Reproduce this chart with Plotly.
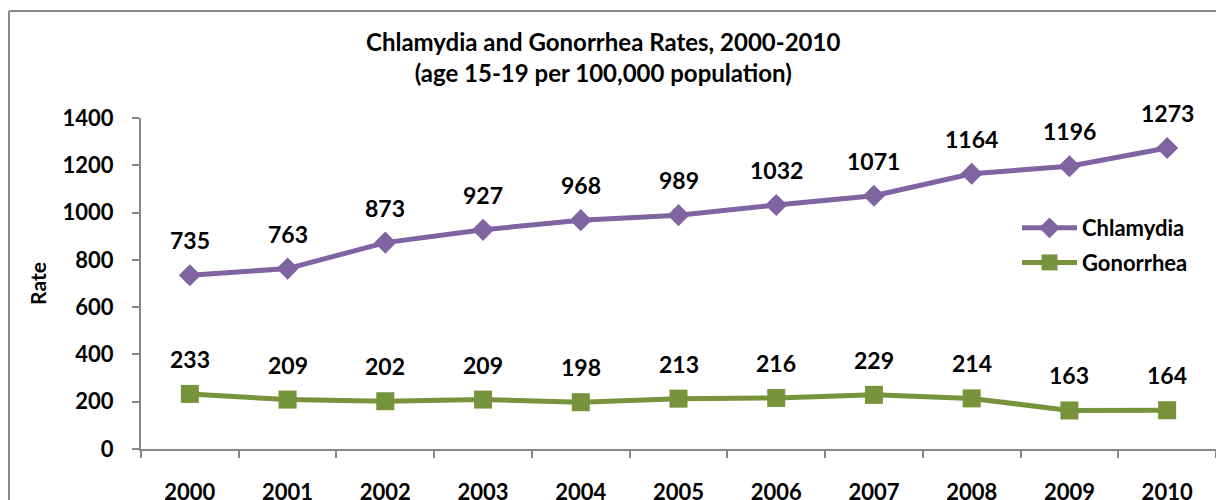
import plotly.graph_objects as go

years = ["2000", "2001", "2002", "2003", "2004", "2005", "2006", "2007", "2008", "2009", "2010"]
chlamydia = [735, 763, 873, 927, 968, 989, 1032, 1071, 1164, 1196, 1273]
gonorrhea = [233, 209, 202, 209, 198, 213, 216, 229, 214, 163, 164]

FONT = "Lato"
PURPLE = "#8064A2"
GREEN = "#77933C"
GRAY = "#888888"

# The page body has an 8px margin, so the figure is drawn 8px in from the window edge.
OFF = 8

fig = go.Figure()
fig.add_trace(go.Scatter(
    x=years, y=chlamydia, name="Chlamydia", mode="lines+markers",
    line=dict(color=PURPLE, width=5),
    marker=dict(symbol="diamond", size=17, color=PURPLE),
    legendgroup="a",
))
fig.add_trace(go.Scatter(
    x=years, y=gonorrhea, name="Gonorrhea", mode="lines+markers",
    line=dict(color=GREEN, width=5),
    marker=dict(symbol="square", size=18, color=GREEN),
    legendgroup="b",
))

annotations = []
for series in (chlamydia, gonorrhea):
    for i, v in enumerate(series):
        annotations.append(dict(
            x=i, y=v, xref="x", yref="y", text=str(v), showarrow=False, yshift=35,
            font=dict(family=FONT, size=23, color="black", weight="bold"),
        ))

# page-pixel to paper conversions (plot area spans x 141..1216, y 118..449 in page pixels)
def px_x(p):
    return (p - 141) / 1075

def px_y(p):
    return (449 - p) / 331

annotations.append(dict(
    xref="paper", yref="paper", x=px_x(603), y=px_y(57),
    text="Chlamydia and Gonorrhea Rates, 2000-2010<br>(age 15-19 per 100,000 population)",
    showarrow=False, xanchor="center", yanchor="middle",
    font=dict(family=FONT, size=24, color="black", weight="bold"),
))

shapes = [
    dict(type="line", xref="paper", yref="paper", x0=px_x(9), x1=px_x(9), y0=px_y(11), y1=px_y(520),
         line=dict(color=GRAY, width=2)),
    dict(type="line", xref="paper", yref="paper", x0=px_x(9), x1=px_x(1240), y0=px_y(11), y1=px_y(11),
         line=dict(color=GRAY, width=2)),
]

fig.update_layout(
    width=1224 - OFF, height=500 - OFF,
    margin=dict(l=141 - OFF, r=8, t=118 - OFF, b=51, autoexpand=False),
    paper_bgcolor="white", plot_bgcolor="white",
    showlegend=True,
    legend=dict(
        x=px_x(1017), y=px_y(207), xanchor="left", yanchor="top",
        font=dict(family=FONT, size=22, color="black", weight="bold"),
        traceorder="grouped", tracegroupgap=3,
        itemwidth=55,
        bgcolor="rgba(0,0,0,0)",
    ),
    annotations=annotations,
    shapes=shapes,
    font=dict(family=FONT, color="black"),
)
fig.update_xaxes(
    type="category", range=[-0.5, 10.5], automargin=False,
    showline=True, linecolor=GRAY, linewidth=2,
    ticks="outside", ticklen=7, tickcolor=GRAY, tickwidth=2,
    tickson="boundaries", showgrid=False, zeroline=False,
    tickfont=dict(family=FONT, size=22, color="black", weight="bold"),
    ticklabelstandoff=23,
)
fig.update_yaxes(
    range=[0, 1400], dtick=200, automargin=False,
    showline=True, linecolor=GRAY, linewidth=2,
    ticks="outside", ticklen=7, tickcolor=GRAY, tickwidth=2,
    showgrid=False, zeroline=False,
    tickfont=dict(family=FONT, size=22, color="black", weight="bold"),
    ticklabelstandoff=14,
    title=dict(text="Rate", font=dict(family=FONT, size=21, color="black", weight="bold"), standoff=10),
)

fig.write_html("out.html")
